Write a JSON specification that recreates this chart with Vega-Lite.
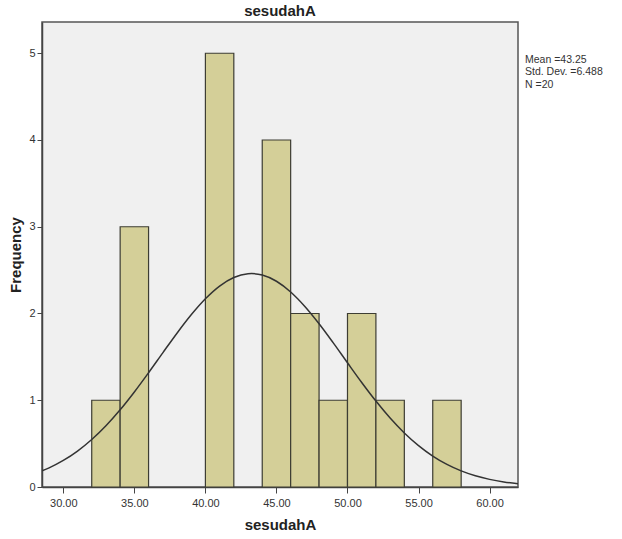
{
  "$schema": "https://vega.github.io/schema/vega-lite/v6.json",
  "width": 476,
  "height": 465,
  "autosize": {"type": "none"},
  "padding": {"left": 42, "top": 22, "right": 104, "bottom": 52},
  "background": "white",
  "config": {
    "font": "Liberation Sans",
    "view": {"fill": "#f0f0f0", "stroke": "#555555", "strokeWidth": 1.5}
  },
  "title": {
    "text": "sesudahA",
    "fontSize": 15,
    "fontWeight": "bold",
    "color": "#222222",
    "font": "Liberation Sans",
    "offset": 3
  },
  "datasets": {
    "bars": [
      {"bin_start": 32, "bin_end": 34, "count": 1},
      {"bin_start": 34, "bin_end": 36, "count": 3},
      {"bin_start": 40, "bin_end": 42, "count": 5},
      {"bin_start": 44, "bin_end": 46, "count": 4},
      {"bin_start": 46, "bin_end": 48, "count": 2},
      {"bin_start": 48, "bin_end": 50, "count": 1},
      {"bin_start": 50, "bin_end": 52, "count": 2},
      {"bin_start": 52, "bin_end": 54, "count": 1},
      {"bin_start": 56, "bin_end": 58, "count": 1}
    ],
    "curve": [
      {"x": 28.5, "y": 0.1856},
      {"x": 29, "y": 0.2205},
      {"x": 30, "y": 0.3057},
      {"x": 31, "y": 0.4137},
      {"x": 32, "y": 0.5470},
      {"x": 33, "y": 0.7061},
      {"x": 34, "y": 0.8901},
      {"x": 35, "y": 1.0959},
      {"x": 36, "y": 1.3174},
      {"x": 37, "y": 1.5465},
      {"x": 38, "y": 1.7728},
      {"x": 39, "y": 1.9846},
      {"x": 40, "y": 2.1696},
      {"x": 41, "y": 2.3161},
      {"x": 42, "y": 2.4144},
      {"x": 43, "y": 2.4578},
      {"x": 43.25, "y": 2.4596},
      {"x": 44, "y": 2.4432},
      {"x": 45, "y": 2.3717},
      {"x": 46, "y": 2.2483},
      {"x": 47, "y": 2.0812},
      {"x": 48, "y": 1.8814},
      {"x": 49, "y": 1.6607},
      {"x": 50, "y": 1.4316},
      {"x": 51, "y": 1.2051},
      {"x": 52, "y": 0.9906},
      {"x": 53, "y": 0.7952},
      {"x": 54, "y": 0.6233},
      {"x": 55, "y": 0.4771},
      {"x": 56, "y": 0.3567},
      {"x": 57, "y": 0.2604},
      {"x": 58, "y": 0.1856},
      {"x": 59, "y": 0.1292},
      {"x": 60, "y": 0.0878},
      {"x": 61, "y": 0.0583},
      {"x": 62, "y": 0.0378}
    ],
    "stats": [
      {"label": "Mean =43.25", "pos": 5.0},
      {"label": "Std. Dev. =6.488", "pos": 4.86},
      {"label": "N =20", "pos": 4.72}
    ]
  },
  "layer": [
    {
      "data": {"name": "bars"},
      "mark": {"type": "rect", "fill": "#d4cf98", "stroke": "#3d3d33", "strokeWidth": 1.2},
      "encoding": {
        "x": {
          "field": "bin_start",
          "type": "quantitative",
          "scale": {"domain": [28.5, 62], "nice": false, "zero": false},
          "axis": {
            "title": "sesudahA",
            "titleFontSize": 15,
            "titleFontWeight": "bold",
            "titleColor": "#222222",
            "titlePadding": 9,
            "values": [30, 35, 40, 45, 50, 55, 60],
            "format": ".2f",
            "labelFontSize": 11,
            "labelColor": "#333333",
            "labelPadding": 4,
            "tickSize": 6,
            "tickColor": "#444444",
            "domainColor": "#444444",
            "domainWidth": 1.5,
            "grid": false
          }
        },
        "x2": {"field": "bin_end"},
        "y": {
          "field": "count",
          "type": "quantitative",
          "scale": {"domain": [0, 5.36], "nice": false},
          "axis": {
            "title": "Frequency",
            "titleFontSize": 15,
            "titleFontWeight": "bold",
            "titleColor": "#222222",
            "titlePadding": 5,
            "values": [0, 1, 2, 3, 4, 5],
            "format": "d",
            "labelFontSize": 11,
            "labelColor": "#333333",
            "labelPadding": 2,
            "tickSize": 5,
            "tickColor": "#444444",
            "domainColor": "#444444",
            "domainWidth": 1.5,
            "grid": false
          }
        },
        "y2": {"datum": 0}
      }
    },
    {
      "data": {"name": "curve"},
      "mark": {"type": "line", "color": "#333333", "strokeWidth": 1.5, "interpolate": "monotone", "clip": true},
      "encoding": {
        "x": {"field": "x", "type": "quantitative"},
        "y": {"field": "y", "type": "quantitative"}
      }
    },
    {
      "data": {"name": "stats"},
      "mark": {"type": "text", "align": "left", "baseline": "top", "dx": 7, "dy": 2, "fontSize": 10.5, "color": "#333333", "clip": false},
      "encoding": {
        "x": {"datum": 62},
        "y": {"field": "pos", "type": "quantitative"},
        "text": {"field": "label"}
      }
    }
  ]
}
